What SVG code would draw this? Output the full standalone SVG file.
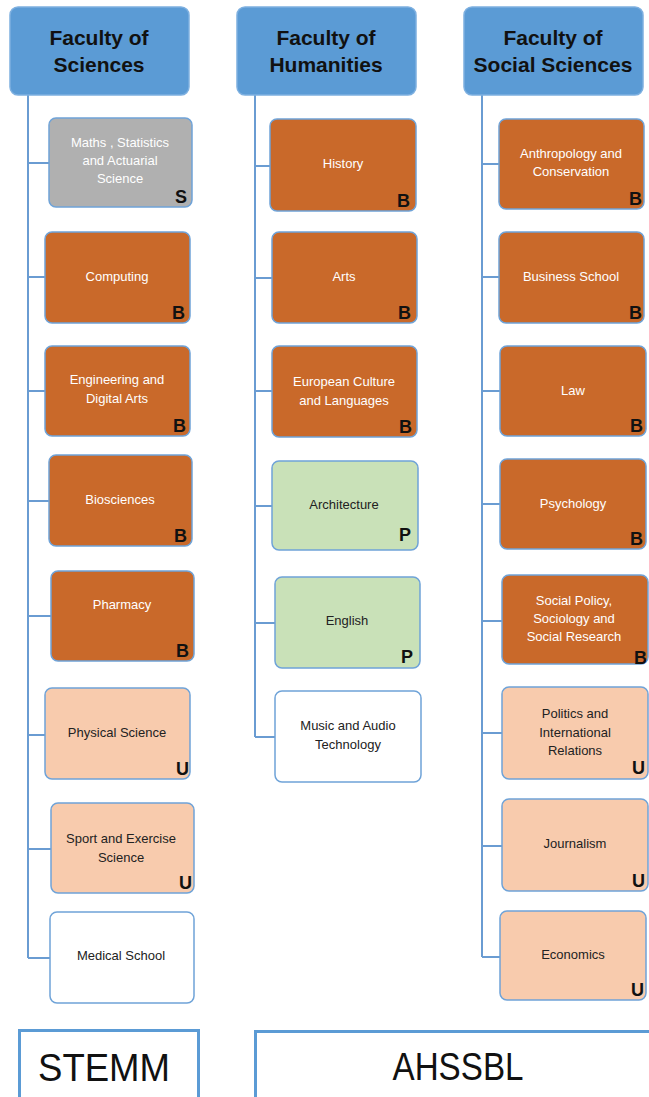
<svg xmlns="http://www.w3.org/2000/svg" width="649" height="1097" viewBox="0 0 649 1097">
<style>
.hdr{fill:#5B9BD5;stroke:#7EB0E0;stroke-width:1.5}
.n{stroke:#6FA3D8;stroke-width:1.5}
.or{fill:#C9692A}
.gr{fill:#B0B0B0}
.sa{fill:#F8CBAD}
.gn{fill:#C9E1B8}
.wh{fill:#FFFFFF}
.ht{font-family:"Liberation Sans",Arial,sans-serif;font-weight:bold;font-size:21px;fill:#111;text-anchor:middle}
.t{font-family:"Liberation Sans",Arial,sans-serif;font-size:13px;text-anchor:middle}
.tw{fill:#FFFFFF}
.tk{fill:#222}
.b{font-family:"Liberation Sans",Arial,sans-serif;font-weight:bold;font-size:18px;fill:#111;text-anchor:end}
.c{stroke:#6A9CD2;stroke-width:2;fill:none}
.big{font-family:"Liberation Sans",Arial,sans-serif;font-size:38px;fill:#111;text-anchor:middle}
.cat{fill:#FFFFFF;stroke:#5B9BD5;stroke-width:3}
</style>
<g id="connectors">
<path class="c" d="M28 95 V958 M28 163 H49 M28 277 H45 M28 391 H45 M28 501 H49 M28 616 H51 M28 735 H45 M28 849 H51 M28 958 H50"/>
<path class="c" d="M255 95 V737 M255 166 H270 M255 278 H272 M255 391 H272 M255 506 H272 M255 623 H275 M255 737 H275"/>
<path class="c" d="M482 95 V957 M482 164 H499 M482 277 H499 M482 391 H500 M482 504 H500 M482 621 H502 M482 733 H502 M482 846 H502 M482 957 H500"/>
</g>
<g id="faculty-sciences"><rect class="hdr" x="10" y="7" width="179" height="88" rx="8"/><text class="ht" x="99" y="45">Faculty of</text><text class="ht" x="99" y="72">Sciences</text></g>
<g id="faculty-humanities"><rect class="hdr" x="237" y="7" width="179" height="88" rx="8"/><text class="ht" x="326" y="45">Faculty of</text><text class="ht" x="326" y="72">Humanities</text></g>
<g id="faculty-social"><rect class="hdr" x="464" y="7" width="179" height="88" rx="8"/><text class="ht" x="553" y="45">Faculty of</text><text class="ht" x="553" y="72">Social Sciences</text></g>

<g id="maths"><rect class="n gr" x="49" y="118" width="143" height="89" rx="7"/><text class="t tw" x="120" y="147">Maths , Statistics</text><text class="t tw" x="120" y="165">and Actuarial</text><text class="t tw" x="120" y="183">Science</text><text class="b" x="187" y="203">S</text></g>
<g id="computing"><rect class="n or" x="45" y="232" width="145" height="91" rx="7"/><text class="t tw" x="117" y="281">Computing</text><text class="b" x="185" y="319">B</text></g>
<g id="engineering"><rect class="n or" x="45" y="346" width="145" height="90" rx="7"/><text class="t tw" x="117" y="384">Engineering and</text><text class="t tw" x="117" y="403">Digital Arts</text><text class="b" x="186" y="432">B</text></g>
<g id="biosciences"><rect class="n or" x="49" y="455" width="143" height="91" rx="7"/><text class="t tw" x="120" y="504">Biosciences</text><text class="b" x="187" y="542">B</text></g>
<g id="pharmacy"><rect class="n or" x="51" y="571" width="143" height="90" rx="7"/><text class="t tw" x="122" y="609">Pharmacy</text><text class="b" x="189" y="657">B</text></g>
<g id="physical"><rect class="n sa" x="45" y="688" width="145" height="91" rx="7"/><text class="t tk" x="117" y="737">Physical Science</text><text class="b" x="189" y="775">U</text></g>
<g id="sport"><rect class="n sa" x="51" y="803" width="143" height="90" rx="7"/><text class="t tk" x="121" y="843">Sport and Exercise</text><text class="t tk" x="121" y="862">Science</text><text class="b" x="192" y="889">U</text></g>
<g id="medical"><rect class="n wh" x="50" y="912" width="144" height="91" rx="7"/><text class="t tk" x="121" y="960">Medical School</text></g>

<g id="history"><rect class="n or" x="270" y="119" width="146" height="92" rx="7"/><text class="t tw" x="343" y="168">History</text><text class="b" x="410" y="207">B</text></g>
<g id="arts"><rect class="n or" x="272" y="232" width="145" height="91" rx="7"/><text class="t tw" x="344" y="281">Arts</text><text class="b" x="411" y="319">B</text></g>
<g id="european"><rect class="n or" x="272" y="346" width="145" height="91" rx="7"/><text class="t tw" x="344" y="386">European Culture</text><text class="t tw" x="344" y="405">and Languages</text><text class="b" x="412" y="433">B</text></g>
<g id="architecture"><rect class="n gn" x="272" y="461" width="146" height="89" rx="7"/><text class="t tk" x="344" y="509">Architecture</text><text class="b" x="411" y="541">P</text></g>
<g id="english"><rect class="n gn" x="275" y="577" width="145" height="91" rx="7"/><text class="t tk" x="347" y="625">English</text><text class="b" x="413" y="663">P</text></g>
<g id="music"><rect class="n wh" x="275" y="691" width="146" height="91" rx="7"/><text class="t tk" x="348" y="730">Music and Audio</text><text class="t tk" x="348" y="749">Technology</text></g>

<g id="anthropology"><rect class="n or" x="499" y="119" width="145" height="90" rx="7"/><text class="t tw" x="571" y="158">Anthropology and</text><text class="t tw" x="571" y="176">Conservation</text><text class="b" x="642" y="205">B</text></g>
<g id="business"><rect class="n or" x="499" y="232" width="145" height="91" rx="7"/><text class="t tw" x="571" y="281">Business School</text><text class="b" x="642" y="319">B</text></g>
<g id="law"><rect class="n or" x="500" y="346" width="146" height="90" rx="7"/><text class="t tw" x="573" y="395">Law</text><text class="b" x="643" y="432">B</text></g>
<g id="psychology"><rect class="n or" x="500" y="459" width="146" height="90" rx="7"/><text class="t tw" x="573" y="508">Psychology</text><text class="b" x="643" y="545">B</text></g>
<g id="socialpolicy"><rect class="n or" x="502" y="575" width="146" height="89" rx="7"/><text class="t tw" x="574" y="605">Social Policy,</text><text class="t tw" x="574" y="623">Sociology and</text><text class="t tw" x="574" y="641">Social Research</text><text class="b" x="647" y="664">B</text></g>
<g id="politics"><rect class="n sa" x="502" y="687" width="146" height="92" rx="7"/><text class="t tk" x="575" y="718">Politics and</text><text class="t tk" x="575" y="737">International</text><text class="t tk" x="575" y="755">Relations</text><text class="b" x="645" y="774">U</text></g>
<g id="journalism"><rect class="n sa" x="502" y="799" width="146" height="92" rx="7"/><text class="t tk" x="575" y="848">Journalism</text><text class="b" x="645" y="887">U</text></g>
<g id="economics"><rect class="n sa" x="500" y="911" width="146" height="89" rx="7"/><text class="t tk" x="573" y="959">Economics</text><text class="b" x="644" y="996">U</text></g>

<g id="stemm"><rect class="cat" x="19.5" y="1030.5" width="179" height="80"/><text class="big" x="104" y="1081" textLength="132" lengthAdjust="spacingAndGlyphs">STEMM</text></g>
<g id="ahssbl"><rect class="cat" x="255.5" y="1031.5" width="410" height="80"/><text class="big" x="458" y="1080" textLength="131" lengthAdjust="spacingAndGlyphs">AHSSBL</text></g>
</svg>
